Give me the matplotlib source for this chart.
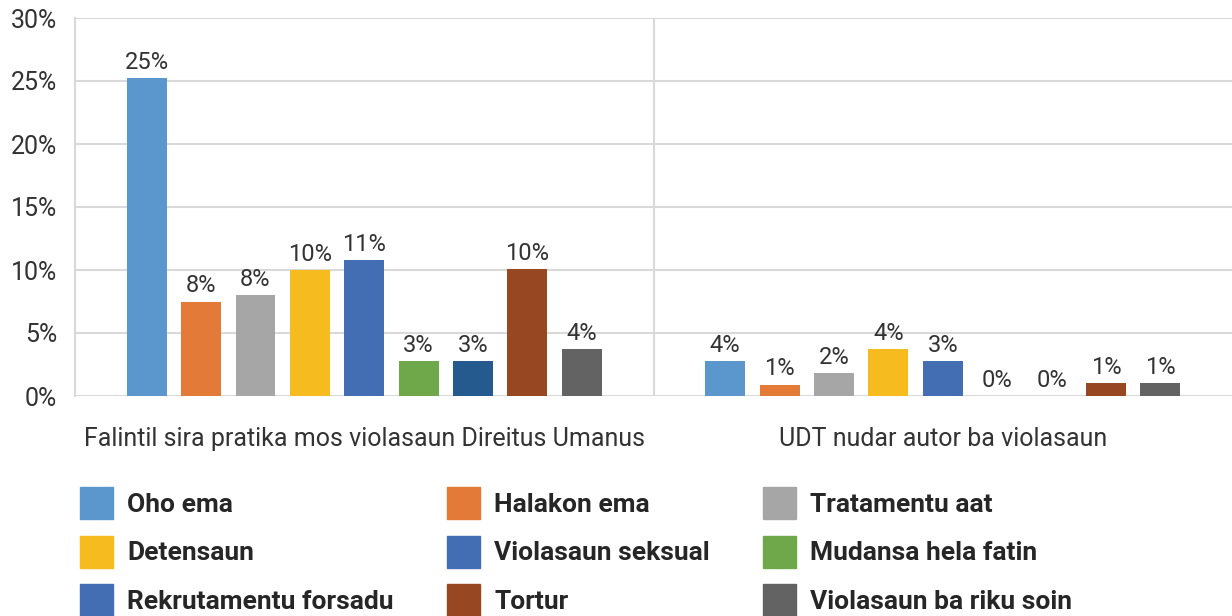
import matplotlib.pyplot as plt
from matplotlib.patches import Patch
import numpy as np

plt.rcParams['font.family'] = ['Roboto', 'DejaVu Sans']

groups = ['Falintil sira pratika mos violasaun Direitus Umanus',
          'UDT nudar autor ba violasaun']
series = ['Oho ema', 'Halakon ema', 'Tratamentu aat', 'Detensaun',
          'Violasaun seksual', 'Mudansa hela fatin', 'Rekrutamentu forsadu',
          'Tortur', 'Violasaun ba riku soin']
falintil = [25.2, 7.5, 8.0, 10.0, 10.8, 2.8, 2.8, 10.1, 3.7]
udt = [2.8, 0.9, 1.8, 3.7, 2.8, 0.0, 0.0, 1.0, 1.0]
falintil_labels = ['25%', '8%', '8%', '10%', '11%', '3%', '3%', '10%', '4%']
udt_labels = ['4%', '1%', '2%', '4%', '3%', '0%', '0%', '1%', '1%']

bar_colors = ['#5B96CC', '#E47A37', '#A5A6A5', '#F6BB1E', '#436EB3',
              '#6FA84A', '#255A8E', '#974822', '#636363']
legend_colors = ['#5B96CC', '#E47A37', '#A5A6A5', '#F6BB1E', '#436EB3',
                 '#6FA84A', '#436EB3', '#974822', '#636363']

fig = plt.figure(figsize=(12.32, 6.16), dpi=100)
ax = fig.add_axes([75 / 1232, 220 / 616, 1 - 75 / 1232, 378 / 616])

x = np.arange(len(groups))
step = 0.094
width = 0.069
for i, name in enumerate(series):
    vals = [falintil[i], udt[i]]
    bars = ax.bar(x + (i - 4) * step, vals, width, color=bar_colors[i], zorder=3)
    ax.bar_label(bars, labels=[falintil_labels[i], udt_labels[i]], padding=3,
                 fontsize=17, color='#333333')

ax.set_xlim(-0.5, 1.5)
ax.set_ylim(0, 30)
ax.set_yticks(range(0, 31, 5))
ax.set_yticklabels([f'{v}%' for v in range(0, 31, 5)])
ax.set_xticks(x)
ax.set_xticklabels(groups)
ax.tick_params(axis='y', length=0, pad=13, labelsize=18, labelcolor='#333333')
ax.tick_params(axis='x', length=0, pad=22, labelsize=18, labelcolor='#333333')

ax.grid(axis='y', color='#D9D9D9', lw=1.5, zorder=0)
ax.axvline(0.5, color='#D9D9D9', lw=1.5, zorder=0)
for side in ['top', 'right', 'bottom']:
    ax.spines[side].set_visible(False)
ax.spines['left'].set_color('#D9D9D9')
ax.spines['left'].set_linewidth(1.5)

# legend fills column-wise, so reorder to read row by row
order = [0, 3, 6, 1, 4, 7, 2, 5, 8]
handles = [Patch(color=legend_colors[k]) for k in order]
labels = [series[k] for k in order]
fig.legend(handles, labels, ncol=3, loc='upper left',
           bbox_to_anchor=(80 / 1232, 1 - 487 / 616), frameon=False,
           prop={'size': 19, 'weight': 'bold'}, labelcolor='#262626',
           handlelength=1.25, handleheight=1.5, handletextpad=0.55,
           labelspacing=0.62, columnspacing=2.0, borderpad=0, borderaxespad=0)

fig.savefig('out.png', dpi=100)
